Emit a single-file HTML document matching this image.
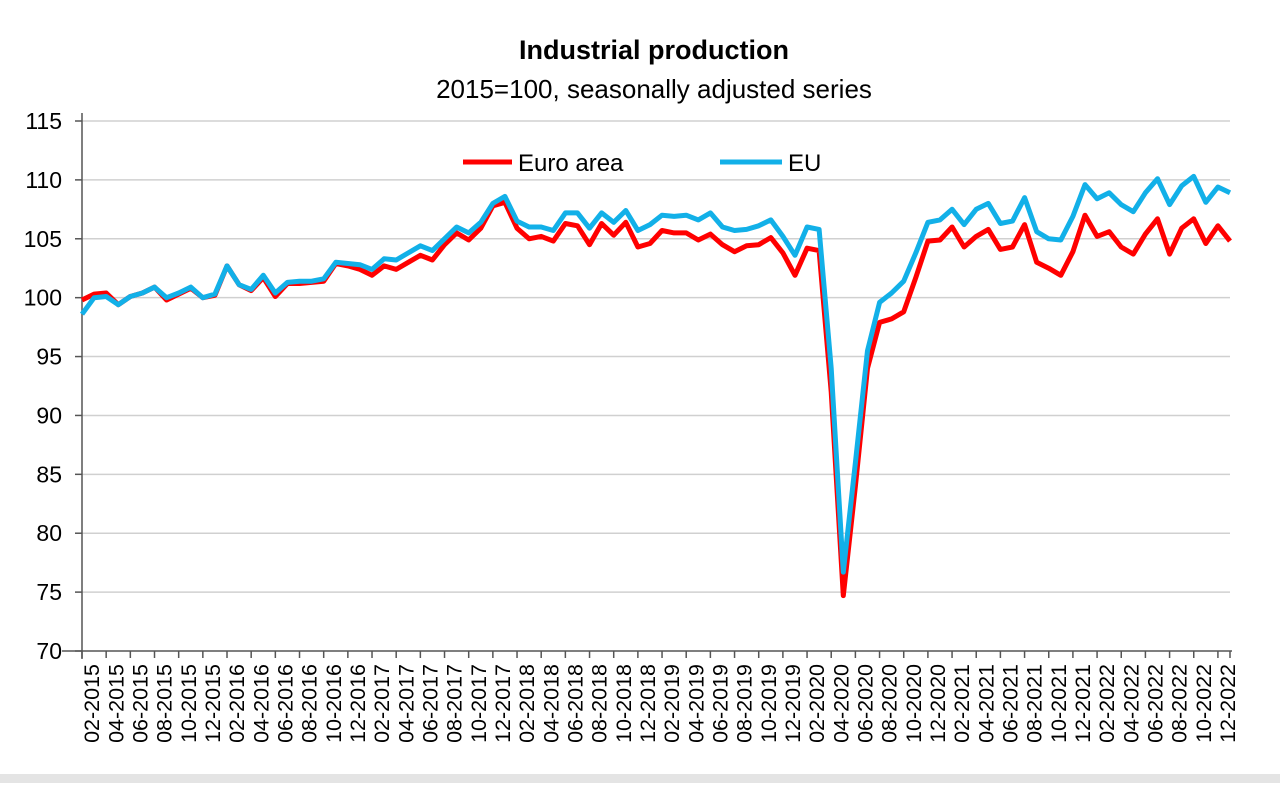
<!DOCTYPE html>
<html><head><meta charset="utf-8"><style>
html,body{margin:0;padding:0;background:#fff;}
body{width:1280px;height:783px;overflow:hidden;font-family:"Liberation Sans",Arial,sans-serif;}
</style></head><body>
<svg id="chart" width="1280" height="783" xmlns="http://www.w3.org/2000/svg" font-family="Liberation Sans, Arial, sans-serif">
<rect x="0" y="774" width="1280" height="9" fill="#e4e4e4"/>
<text x="654" y="59" text-anchor="middle" font-size="27" font-weight="bold">Industrial production</text>
<text x="654" y="98" text-anchor="middle" font-size="26">2015=100, seasonally adjusted series</text>
<g id="grid"></g><g id="axes"></g><g id="series"></g>
<g>
<line x1="463" y1="162" x2="512" y2="162" stroke="#ff0000" stroke-width="5"/>
<text x="518" y="171" font-size="24">Euro area</text>
<line x1="720" y1="162" x2="782" y2="162" stroke="#12b0e8" stroke-width="5"/>
<text x="788" y="171" font-size="24">EU</text>
</g>
</svg>
<script>
const yTicks=[70,75,80,85,90,95,100,105,110,115];
const euroArea=[99.8,100.3,100.4,99.4,100.1,100.4,100.9,99.8,100.3,100.8,100.0,100.2,102.7,101.1,100.6,101.7,100.1,101.2,101.2,101.3,101.4,102.9,102.7,102.4,101.9,102.7,102.4,103.0,103.6,103.2,104.5,105.5,104.9,105.9,107.8,108.1,105.9,105.0,105.2,104.8,106.3,106.1,104.5,106.3,105.3,106.4,104.3,104.6,105.7,105.5,105.5,104.9,105.4,104.5,103.9,104.4,104.5,105.1,103.8,101.9,104.2,104.0,92.0,74.7,84.0,94.0,97.9,98.2,98.8,101.7,104.8,104.9,106.0,104.3,105.2,105.8,104.1,104.3,106.2,103.0,102.5,101.9,103.9,107.0,105.2,105.6,104.3,103.7,105.4,106.7,103.7,105.9,106.7,104.6,106.1,104.8];
const eu=[98.6,100.0,100.1,99.4,100.1,100.4,100.9,100.0,100.4,100.9,100.0,100.3,102.7,101.1,100.7,101.9,100.4,101.3,101.4,101.4,101.6,103.0,102.9,102.8,102.4,103.3,103.2,103.8,104.4,104.0,105.0,106.0,105.5,106.4,108.0,108.6,106.5,106.0,106.0,105.7,107.2,107.2,105.9,107.2,106.4,107.4,105.7,106.2,107.0,106.9,107.0,106.6,107.2,106.0,105.7,105.8,106.1,106.6,105.2,103.6,106.0,105.8,94.0,76.7,86.0,95.5,99.6,100.4,101.4,103.8,106.4,106.6,107.5,106.2,107.5,108.0,106.3,106.5,108.5,105.6,105.0,104.9,106.9,109.6,108.4,108.9,107.9,107.3,108.9,110.1,107.9,109.5,110.3,108.1,109.4,108.9];
const xLabels=[];
for(let y=2015;y<=2022;y++){for(let m=2;m<=12;m+=2){xLabels.push(String(m).padStart(2,'0')+'-'+y);}}
const NS='http://www.w3.org/2000/svg';
const x0=82,x1=1230,yTop=121,yBot=651,vMin=70,vMax=115;
const n=euroArea.length;
const xS=i=>x0+i*(x1-x0)/(n-1);
const yS=v=>yBot-(v-vMin)/(vMax-vMin)*(yBot-yTop);
function mk(tag,attrs,parent){const e=document.createElementNS(NS,tag);for(const k in attrs)e.setAttribute(k,attrs[k]);parent.appendChild(e);return e;}
const grid=document.getElementById('grid'),axes=document.getElementById('axes'),ser=document.getElementById('series');
yTicks.forEach(v=>{
 if(v>vMin){const g=mk('line',{x1:x0,x2:x1,y1:yS(v),y2:yS(v),stroke:'#d0d0d0','stroke-width':1.5},grid);
 
 }
 const t=mk('line',{x1:x0-7,x2:x0,y1:yS(v),y2:yS(v),stroke:'#555','stroke-width':1.5},axes);
 
 
 const l=mk('text',{x:62,y:yS(v)+8,'text-anchor':'end','font-size':23},axes);l.textContent=v;
 
 
});
const ya=mk('line',{x1:x0,x2:x0,y1:yTop-8,y2:yBot+8,stroke:'#555','stroke-width':1.5},axes);


const xa=mk('line',{x1:x0-20,x2:x1+2,y1:yBot,y2:yBot,stroke:'#555','stroke-width':1.5},axes);


for(let k=0;k<=n/2;k++){const xx=Math.min(x0+2*k*(x1-x0)/(n-1),x1);
 const t=mk('line',{x1:xx,x2:xx,y1:yBot,y2:yBot+7,stroke:'#555','stroke-width':1.5},axes);
 
 }
xLabels.forEach((lab,k)=>{const i=2*k+1;const xx=xS(i)-2;
 const t=mk('text',{x:0,y:0,'text-anchor':'end','font-size':21.5,transform:`translate(${xx+7},${yBot+13}) rotate(-90)`},axes);t.textContent=lab;
 
 });
function line(data,color,name){const d=data.map((v,i)=>(i?'L':'M')+xS(i).toFixed(1)+','+yS(v).toFixed(1)).join('');
 const p=mk('path',{d:d,fill:'none',stroke:color,'stroke-width':5,'stroke-linejoin':'round'},ser);
 
 }
line(euroArea,'#ff0000','euro-area-line');
line(eu,'#12b0e8','eu-line');
</script>
</body></html>
